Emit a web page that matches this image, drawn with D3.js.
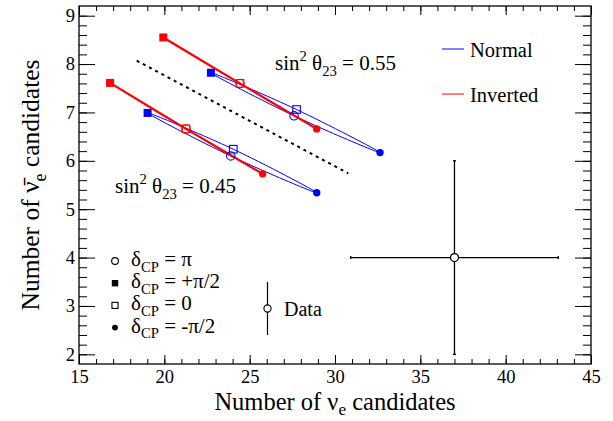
<!DOCTYPE html>
<html><head><meta charset="utf-8">
<script src="https://cdn.jsdelivr.net/npm/d3@7"></script>
<style>
body{margin:0;background:#fff}
svg{display:block}
text{font-family:"Liberation Serif","Times New Roman",serif;fill:#000}
</style>
</head><body><div id="chart"></div>
<script>
// ---- data ----
const xTicks = [15,20,25,30,35,40,45];
const yTicks = [2,3,4,5,6,7,8,9];
const hierarchies = ["Normal","Inverted"];
const deltaLabels = ["π","+π/2","0","-π/2"];
// each contour: points at δCP = +π/2, 0, -π/2, π  (x = νe, y = ν̄e)
const normal055   = [[22.73,7.82],[27.75,7.06],[32.64,6.17],[27.60,6.93]];
const normal045   = [[19.02,6.99],[24.04,6.24],[28.93,5.34],[23.89,6.10]];
const inverted055 = [[19.94,8.55],[24.43,7.60],[28.93,6.66],[24.43,7.60]];
const inverted045 = [[16.82,7.61],[21.27,6.66],[25.76,5.73],[21.27,6.66]];
const dividerLine = [[18.38,8.07],[30.78,5.74]];
const dataX = [37], dataY = [4], dataXErr = [6.08], dataYErr = [2];

// ---- layout ----
const W = 613, H = 421;
const m = {left:79, right:22, top:6, bottom:57};
const iw = W - m.left - m.right, ih = H - m.top - m.bottom;
const FONT = '"Liberation Serif","Times New Roman",serif';

const svg = d3.select("#chart").append("svg").attr("width",W).attr("height",H);
const g = svg.append("g").attr("transform",`translate(${m.left},${m.top})`);

const x = d3.scaleLinear().domain([15,45]).range([0,iw]);
const y = d3.scaleLinear().domain([1.8,9.2]).range([ih,0]);

// ---- axes ----
function styleAxis(sel){ sel.select(".domain").remove(); sel.selectAll("line").attr("stroke","#000").attr("stroke-width",1); }
const xMinor = d3.range(15,46,1), yMinor = d3.range(2,9.01,0.2).map(v=>+v.toFixed(1));

g.append("g").attr("transform",`translate(0,${ih})`)
  .call(d3.axisBottom(x).tickValues(xMinor).tickSize(-5).tickFormat("")).call(styleAxis);
g.append("g").attr("transform",`translate(0,${ih})`)
  .call(d3.axisBottom(x).tickValues(xTicks).tickSize(-9).tickPadding(6).tickFormat(d3.format("d")))
  .call(styleAxis)
  .selectAll("text").attr("font-size",18.5).attr("font-family",FONT).attr("fill","#000");
g.append("g").call(d3.axisTop(x).tickValues(xMinor).tickSize(-5).tickFormat("")).call(styleAxis);
g.append("g").call(d3.axisTop(x).tickValues(xTicks).tickSize(-9).tickFormat("")).call(styleAxis);

g.append("g").call(d3.axisLeft(y).tickValues(yMinor).tickSize(-8).tickFormat("")).call(styleAxis);
g.append("g").call(d3.axisLeft(y).tickValues(yTicks).tickSize(-16).tickPadding(4).tickFormat(d3.format("d")))
  .call(styleAxis)
  .selectAll("text").attr("font-size",18.5).attr("font-family",FONT).attr("fill","#000");
g.append("g").attr("transform",`translate(${iw},0)`)
  .call(d3.axisRight(y).tickValues(yMinor).tickSize(-8).tickFormat("")).call(styleAxis);
g.append("g").attr("transform",`translate(${iw},0)`)
  .call(d3.axisRight(y).tickValues(yTicks).tickSize(-16).tickFormat("")).call(styleAxis);

g.append("rect").attr("x",0).attr("y",0).attr("width",iw).attr("height",ih)
  .attr("fill","none").attr("stroke","#000").attr("stroke-width",1.3);

// ---- rich text helper ----
function rich(parent, segs, fs, subShift){
  const t = parent.append("text").attr("font-size",fs).attr("font-family",FONT);
  let shift = 0;
  const sb = subShift==null ? 0.28 : subShift;
  segs.forEach(s=>{
    const ts = t.append("tspan").text(s.t);
    let target = 0, size = fs;
    if(s.sub){ target = sb*fs; size = 0.7*fs; }
    if(s.sup){ target = -0.42*fs; size = 0.7*fs; }
    ts.attr("font-size",size);
    if(target!==shift){ ts.attr("dy",target-shift); shift = target; }
  });
  return t;
}

// ---- axis titles ----
rich(svg,[{t:"Number of ν"},{t:"e",sub:true},{t:" candidates"}],24.5,0.22)
  .attr("x",m.left+iw/2).attr("y",409.5).attr("text-anchor","middle");
rich(svg.append("g").attr("transform",`translate(39,${m.top+ih/2}) rotate(-90)`),
  [{t:"Number of ν\u0304"},{t:"e",sub:true},{t:" candidates"}],25.5)
  .attr("x",0).attr("y",0).attr("text-anchor","middle");

// ---- contours ----
const colors = {Normal:"#0000ff", Inverted:"#ff0000"};
const line = d3.line().x(d=>x(d[0])).y(d=>y(d[1])).curve(d3.curveCardinalClosed.tension(0));
const contours = [
  {pts:normal055, h:"Normal"},{pts:normal045, h:"Normal"},
  {pts:inverted055, h:"Inverted"},{pts:inverted045, h:"Inverted"}
];
contours.forEach(c=>{
  g.append("path").attr("d",line(c.pts)).attr("fill","none")
    .attr("stroke",colors[c.h]).attr("stroke-width",c.h==="Normal"?1:2.2);
});

// dotted divider
g.append("path").attr("d",d3.line().x(d=>x(d[0])).y(d=>y(d[1]))(dividerLine))
  .attr("stroke","#000").attr("stroke-width",2).attr("stroke-dasharray","3,4").attr("fill","none");

// markers: index 0 filled square (+π/2), 1 open square (0), 2 filled circle (-π/2), 3 open circle (π)
function marker(sel, kind, cx, cy, col, scale){
  const s = scale||1;
  if(kind===0) sel.append("rect").attr("x",cx-4*s).attr("y",cy-4*s).attr("width",8*s).attr("height",8*s).attr("fill",col);
  if(kind===1) sel.append("rect").attr("x",cx-3.8*s).attr("y",cy-3.8*s).attr("width",7.6*s).attr("height",7.6*s).attr("fill","none").attr("stroke",col).attr("stroke-width",1.1);
  if(kind===2) sel.append("circle").attr("cx",cx).attr("cy",cy).attr("r",3.7*s).attr("fill",col);
  if(kind===3) sel.append("circle").attr("cx",cx).attr("cy",cy).attr("r",4.2*s).attr("fill","none").attr("stroke",col).attr("stroke-width",1.1);
}
contours.forEach(c=>{
  c.pts.forEach((p,i)=>marker(g,i,x(p[0]),y(p[1]),colors[c.h]));
});

// ---- data point ----
const dp = g.append("g").attr("stroke","#000").attr("stroke-width",1.3);
dataX.forEach((dx,i)=>{
  const dy = dataY[i];
  dp.append("line").attr("x1",x(dx-dataXErr[i])).attr("x2",x(dx+dataXErr[i])).attr("y1",y(dy)).attr("y2",y(dy));
  dp.append("line").attr("x1",x(dx)).attr("x2",x(dx)).attr("y1",y(dy-dataYErr[i])).attr("y2",y(dy+dataYErr[i]));
  [dx-dataXErr[i],dx+dataXErr[i]].forEach(v=>dp.append("line").attr("x1",x(v)).attr("x2",x(v)).attr("y1",y(dy)-1.5).attr("y2",y(dy)+1.5));
  [dy-dataYErr[i],dy+dataYErr[i]].forEach(v=>dp.append("line").attr("x1",x(dx)-1.5).attr("x2",x(dx)+1.5).attr("y1",y(v)).attr("y2",y(v)));
  dp.append("circle").attr("cx",x(dx)).attr("cy",y(dy)).attr("r",4).attr("fill","#fff");
});

// ---- annotations ----
rich(svg,[{t:"sin"},{t:"2",sup:true},{t:" θ"},{t:"23",sub:true},{t:" = 0.55"}],21).attr("x",275).attr("y",70);
rich(svg,[{t:"sin"},{t:"2",sup:true},{t:" θ"},{t:"23",sub:true},{t:" = 0.45"}],21).attr("x",115).attr("y",193);

// ---- hierarchy legend ----
hierarchies.forEach((h,i)=>{
  const yy = 49 + i*45;
  svg.append("line").attr("x1",442).attr("x2",464).attr("y1",yy).attr("y2",yy).attr("stroke",colors[h]).attr("stroke-width",1);
  svg.append("text").attr("x",470).attr("y",yy+8).attr("font-size",20.5).attr("font-family",FONT).text(h);
});

// ---- δCP legend ----
const legOrder = [3,0,1,2];
deltaLabels.forEach((lab,i)=>{
  const yy = 261 + i*22.2;
  marker(svg, legOrder[i], 115, yy, "#000", 0.8);
  rich(svg,[{t:"δ"},{t:"CP",sub:true},{t:" = "+lab}],21).attr("x",131).attr("y",yy+5);
});

// data legend
svg.append("line").attr("x1",267.5).attr("x2",267.5).attr("y1",282).attr("y2",335).attr("stroke","#000").attr("stroke-width",1.2);
svg.append("circle").attr("cx",267.5).attr("cy",308.5).attr("r",3.6).attr("fill","#fff").attr("stroke","#000").attr("stroke-width",1.1);
svg.append("text").attr("x",284).attr("y",316).attr("font-size",20).attr("font-family",FONT).text("Data");
</script>
</body></html>
